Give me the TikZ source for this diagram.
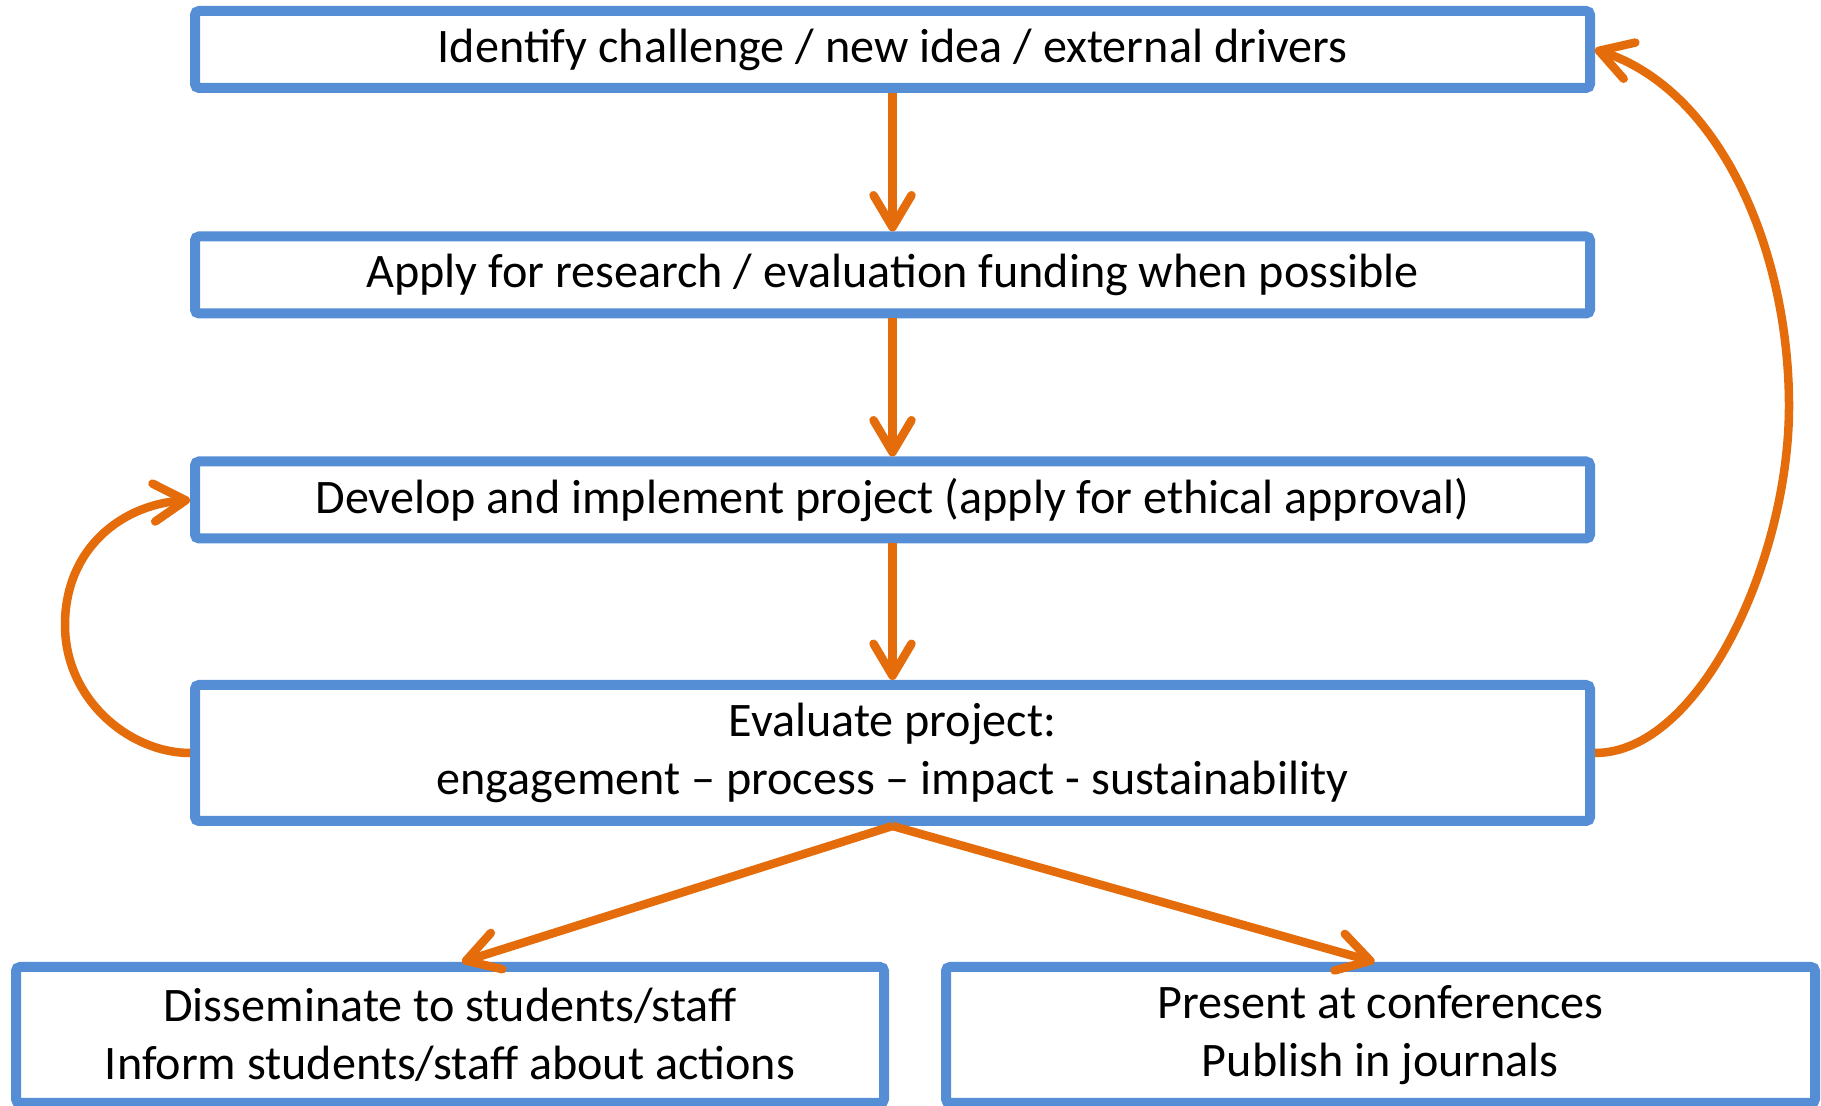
\documentclass[tikz,border=0pt]{standalone}
\usepackage{fontspec}
\setmainfont{Carlito}
\usetikzlibrary{arrows.meta}

\definecolor{stageblue}{HTML}{558ED5}
\definecolor{floworange}{HTML}{E46C0A}

\begin{document}
\begin{tikzpicture}[> = {Straight Barb[length = 3.2mm, width = 3.8mm, round]},
	stage/.style = {draw = stageblue, line width = 1mm, rounded corners = 0.4mm, minimum width = 13.95cm, minimum height = 7.7mm, align = center, font = \fontsize{13.7}{16.6}\selectfont},
	flow/.style = {draw = floworange, line width = 0.85mm, ->}]

	\useasboundingbox (0, 0) rectangle (18.21, 11.06);

	% Main cycle
	
	\node [stage] (ident) at (8.925, 10.565) {Identify challenge / new idea / external drivers};
	\node [stage] (apply) at (8.925, 8.31) {Apply for research / evaluation funding when possible};
	\node [stage] (develop) at (8.925, 6.06) {Develop and implement project (apply for ethical approval)};
	\node [stage, minimum height = 13.6mm] (eval) at (8.925, 3.53) {Evaluate project:\\engagement -- process -- impact - sustainability};
	
	% Outcomes
	
	\node [stage, minimum width = 8.68cm, minimum height = 13.6mm] (dissem) at (4.5, 0.71) {Disseminate to students/staff\\Inform students/staff about actions};
	\node [stage, minimum width = 8.69cm, minimum height = 13.6mm] (present) at (13.805, 0.71) {Present at conferences\\Publish in journals};
	
	% Straight arrows
	
	\draw [flow] (ident) -- (apply);
	\draw [flow] (apply) -- (develop);
	\draw [flow] (develop) -- (eval);
	\draw [flow] (eval.south) -- ([xshift = 1.2mm] dissem.north);
	\draw [flow] (eval.south) -- ([xshift = -0.6mm] present.north);
	
	% Feedback loops
	
	\draw [flow] (eval.west) .. controls (1.3, 3.53) and (0.65, 4.06) .. (0.65, 4.81) .. controls (0.65, 5.56) and (1.2, 6.01) .. (develop.west);
	\draw [flow] (eval.east) .. controls (17, 3.53) and (17.89, 5.46) .. (17.89, 7) .. controls (17.89, 8.56) and (17.2, 10.16) .. (ident.east);
	
\end{tikzpicture}
\end{document}
